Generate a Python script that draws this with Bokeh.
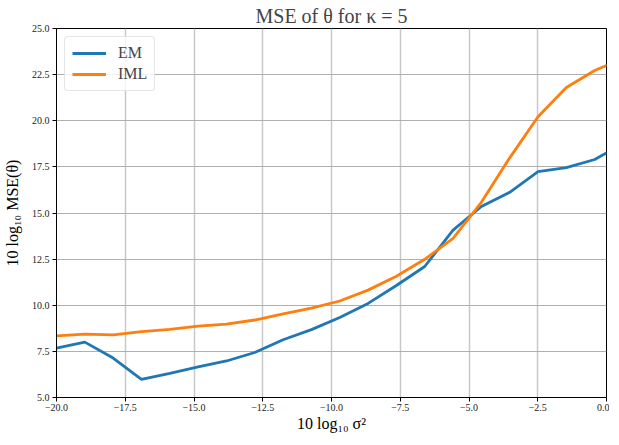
from bokeh.plotting import figure
from bokeh.models import FixedTicker, Range1d, Legend, LegendItem
from bokeh.embed import file_html
from bokeh.resources import INLINE

# ---- data ----
x_vals = [-20.0, -18.97, -17.94, -16.91, -15.88, -14.85, -13.82, -12.79, -11.76, -10.73,
          -9.70, -8.67, -7.64, -6.61, -5.58, -4.55, -3.52, -2.49, -1.46, -0.43, 0.60]
em_vals = [7.68, 8.00, 7.14, 5.98, 6.31, 6.66, 6.98, 7.44, 8.13, 8.68,
           9.34, 10.10, 11.07, 12.10, 14.07, 15.35, 16.12, 17.24, 17.46, 17.90, 18.76]
iml_vals = [8.34, 8.43, 8.39, 8.57, 8.69, 8.87, 8.98, 9.20, 9.53, 9.84,
            10.23, 10.82, 11.57, 12.49, 13.62, 15.58, 17.99, 20.22, 21.80, 22.72, 23.37]
series_names = ["EM", "IML"]
x_ticks = [-20.0, -17.5, -15.0, -12.5, -10.0, -7.5, -5.0, -2.5, 0.0]
x_tick_labels = ["\u221220.0", "\u221217.5", "\u221215.0", "\u221212.5", "\u221210.0",
                 "\u22127.5", "\u22125.0", "\u22122.5", "0.0"]
y_ticks = [5.0, 7.5, 10.0, 12.5, 15.0, 17.5, 20.0, 22.5, 25.0]
y_tick_labels = ["5.0", "7.5", "10.0", "12.5", "15.0", "17.5", "20.0", "22.5", "25.0"]

FONT = "Liberation Serif"

p = figure(frame_width=550, frame_height=369, output_backend="svg", toolbar_location=None,
           x_range=Range1d(-20, 0), y_range=Range1d(5, 25),
           min_border_left=50, min_border_right=3, min_border_top=21, min_border_bottom=0)

p.title.text = "MSE of \u03b8 for \u03ba = 5"
p.title.text_font = FONT
p.title.text_font_size = "20px"
p.title.text_font_style = "normal"
p.title.align = "center"
p.title.standoff = 4

p.outline_line_color = "black"
p.outline_line_width = 1
p.outline_line_alpha = 1

for ax, ticks, labels in ((p.xaxis[0], x_ticks, x_tick_labels), (p.yaxis[0], y_ticks, y_tick_labels)):
    ax.ticker = FixedTicker(ticks=ticks)
    ax.major_label_overrides = {t: l for t, l in zip(ticks, labels)}
    ax.minor_tick_line_color = None
    ax.major_tick_out = 4
    ax.major_tick_in = 0
    ax.axis_line_color = "black"
    ax.major_label_text_font = FONT
    ax.major_label_text_font_size = "10px"
    ax.major_label_text_color = "#222222"
    ax.axis_label_text_font = FONT
    ax.axis_label_text_font_size = "16px"
    ax.axis_label_text_font_style = "normal"
    ax.axis_label_text_color = "black"

p.xaxis.axis_label = "10 log\u2081\u2080 \u03c3\u00b2"
p.yaxis.axis_label = "10 log\u2081\u2080 MSE(\u03b8)"
p.xaxis.axis_label_standoff = 1
p.yaxis.axis_label_standoff = 8
p.xaxis.major_label_standoff = 2
p.yaxis.major_label_standoff = 3

p.xgrid.grid_line_color = "#c8c8c8"
p.xgrid.grid_line_width = 1.5
p.ygrid.grid_line_color = "#b0b0b0"
p.ygrid.grid_line_width = 1

r_em = p.line(x_vals, em_vals, line_color="#1f77b4", line_width=2.8)
r_iml = p.line(x_vals, iml_vals, line_color="#ff7f0e", line_width=2.8)

legend = Legend(items=[LegendItem(label=series_names[0], renderers=[r_em]),
                       LegendItem(label=series_names[1], renderers=[r_iml])],
                location="top_left")
legend.label_text_font = FONT
legend.label_text_font_size = "16px"
legend.border_line_color = "#cccccc"
legend.border_line_width = 1
legend.border_radius = 4
legend.background_fill_alpha = 0.8
legend.glyph_width = 34
legend.glyph_height = 18
legend.label_standoff = 12
legend.spacing = 3
legend.padding = 7
legend.margin = 8
p.add_layout(legend)

open("out.html", "w").write(file_html(p, INLINE))
